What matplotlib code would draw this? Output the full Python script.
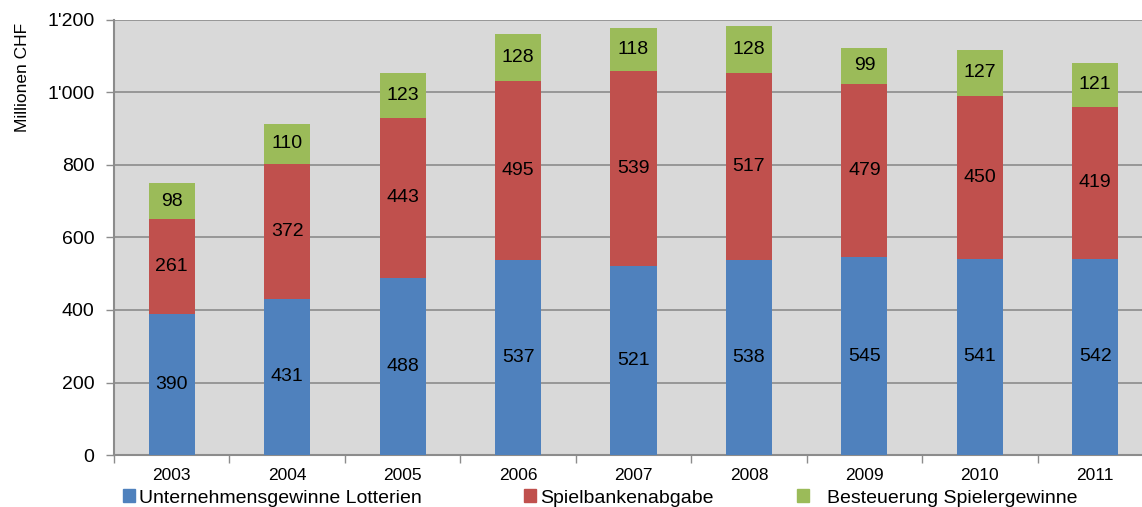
import numpy as np
import matplotlib.pyplot as plt
from matplotlib.ticker import FuncFormatter, FixedLocator
from matplotlib.patches import Patch

plt.rcParams['font.family'] = ['Liberation Sans', 'DejaVu Sans']

# --- Daten ---
jahre = ['2003', '2004', '2005', '2006', '2007', '2008', '2009', '2010', '2011']
lotterien = [390, 431, 488, 537, 521, 538, 545, 541, 542]
spielbank = [261, 372, 443, 495, 539, 517, 479, 450, 419]
spieler = [98, 110, 123, 128, 118, 128, 99, 127, 121]

serien = ['Unternehmensgewinne Lotterien', 'Spielbankenabgabe',
          'Besteuerung Spielergewinne']
farben = ['#4F81BD', '#C0504D', '#9BBB59']

fig = plt.figure(figsize=(11.42, 5.07), dpi=100)
ax = fig.add_axes([114 / 1142, 1 - 455 / 507, 1039 / 1142, 435 / 507])
ax.set_facecolor('#D9D9D9')

x = np.arange(len(jahre))
unten = np.zeros(len(jahre))
for werte, name, farbe in zip([lotterien, spielbank, spieler], serien, farben):
    werte = np.array(werte, dtype=float)
    bars = ax.bar(x, werte, width=0.4, bottom=unten, color=farbe, label=name,
                  zorder=3)
    ax.bar_label(bars, labels=[str(int(v)) for v in werte],
                 label_type='center', fontsize=14, color='black', zorder=4)
    unten += werte

ax.set_xlim(-0.5, len(jahre) - 0.5)
ax.set_ylim(0, 1200)
ax.set_yticks(np.arange(0, 1201, 200))
ax.yaxis.set_major_formatter(FuncFormatter(lambda v, p: f"{int(v):,}".replace(',', "'")))
ax.grid(axis='y', color='#8C8C8C', linewidth=1.2, zorder=1)
ax.set_axisbelow(True)

ax.set_xticks(x)
ax.set_xticklabels(jahre, fontsize=12.5)
ax.xaxis.set_minor_locator(FixedLocator(np.arange(-0.5, len(jahre), 1.0)))
ax.tick_params(axis='x', which='major', length=0, pad=9)
ax.tick_params(axis='x', which='minor', length=6, color='#8C8C8C', width=1)
ax.tick_params(axis='y', labelsize=14, length=6, color='#8C8C8C', width=1, pad=8)

for s in ['top', 'right']:
    ax.spines[s].set_visible(False)
for s in ['left', 'bottom']:
    ax.spines[s].set_color('#8C8C8C')
    ax.spines[s].set_linewidth(1.5)

ax.set_ylabel('Millionen CHF', fontsize=12.5)
ax.yaxis.set_label_coords(-0.081, 0.867)

# Legende: drei Einträge an festen Positionen
leg_x = [123, 524, 797]
leg_pad = [0.2, 0.2, 0.9]
for name, farbe, lx, pad in zip(serien, farben, leg_x, leg_pad):
    fig.legend(handles=[Patch(color=farbe, label=name)], loc='center left',
               bbox_to_anchor=(lx / 1142, 1 - 498 / 507), frameon=False,
               fontsize=14, handlelength=0.62, handleheight=0.62,
               handletextpad=pad, borderpad=0, borderaxespad=0)

plt.savefig('out.png', dpi=100)
